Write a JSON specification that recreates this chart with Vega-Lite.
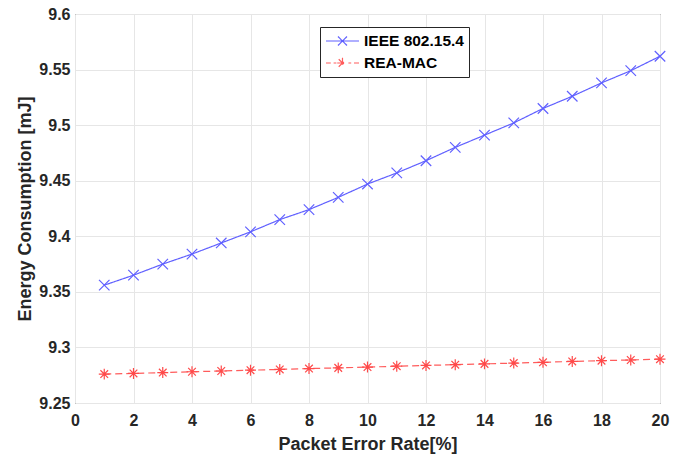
{
  "$schema": "https://vega.github.io/schema/vega-lite/v6.json",
  "autosize": "none",
  "width": 585,
  "height": 389,
  "padding": {"left": 75, "top": 14, "right": 22, "bottom": 55},
  "background": "white",
  "config": {
    "font": "Liberation Sans",
    "view": {"stroke": "#262626", "strokeWidth": 1},
    "axis": {
      "labelFont": "Liberation Sans",
      "labelFontWeight": "bold",
      "labelFontSize": 16,
      "labelColor": "#262626",
      "labelFlush": false,
      "titleFont": "Liberation Sans",
      "titleFontWeight": "bold",
      "titleFontSize": 18,
      "titleColor": "#262626",
      "gridColor": "#e6e6e6",
      "gridWidth": 1,
      "domain": false,
      "ticks": false
    }
  },
  "data": {
    "values": [
      {"per": 1, "energy": 9.356, "series": "IEEE 802.15.4"},
      {"per": 2, "energy": 9.365, "series": "IEEE 802.15.4"},
      {"per": 3, "energy": 9.375, "series": "IEEE 802.15.4"},
      {"per": 4, "energy": 9.384, "series": "IEEE 802.15.4"},
      {"per": 5, "energy": 9.394, "series": "IEEE 802.15.4"},
      {"per": 6, "energy": 9.404, "series": "IEEE 802.15.4"},
      {"per": 7, "energy": 9.415, "series": "IEEE 802.15.4"},
      {"per": 8, "energy": 9.424, "series": "IEEE 802.15.4"},
      {"per": 9, "energy": 9.435, "series": "IEEE 802.15.4"},
      {"per": 10, "energy": 9.447, "series": "IEEE 802.15.4"},
      {"per": 11, "energy": 9.457, "series": "IEEE 802.15.4"},
      {"per": 12, "energy": 9.468, "series": "IEEE 802.15.4"},
      {"per": 13, "energy": 9.480, "series": "IEEE 802.15.4"},
      {"per": 14, "energy": 9.491, "series": "IEEE 802.15.4"},
      {"per": 15, "energy": 9.502, "series": "IEEE 802.15.4"},
      {"per": 16, "energy": 9.515, "series": "IEEE 802.15.4"},
      {"per": 17, "energy": 9.526, "series": "IEEE 802.15.4"},
      {"per": 18, "energy": 9.538, "series": "IEEE 802.15.4"},
      {"per": 19, "energy": 9.549, "series": "IEEE 802.15.4"},
      {"per": 20, "energy": 9.562, "series": "IEEE 802.15.4"},
      {"per": 1, "energy": 9.2760, "series": "REA-MAC"},
      {"per": 2, "energy": 9.2766, "series": "REA-MAC"},
      {"per": 3, "energy": 9.2774, "series": "REA-MAC"},
      {"per": 4, "energy": 9.2781, "series": "REA-MAC"},
      {"per": 5, "energy": 9.2788, "series": "REA-MAC"},
      {"per": 6, "energy": 9.2795, "series": "REA-MAC"},
      {"per": 7, "energy": 9.2802, "series": "REA-MAC"},
      {"per": 8, "energy": 9.2810, "series": "REA-MAC"},
      {"per": 9, "energy": 9.2816, "series": "REA-MAC"},
      {"per": 10, "energy": 9.2823, "series": "REA-MAC"},
      {"per": 11, "energy": 9.2831, "series": "REA-MAC"},
      {"per": 12, "energy": 9.2838, "series": "REA-MAC"},
      {"per": 13, "energy": 9.2845, "series": "REA-MAC"},
      {"per": 14, "energy": 9.2852, "series": "REA-MAC"},
      {"per": 15, "energy": 9.2859, "series": "REA-MAC"},
      {"per": 16, "energy": 9.2866, "series": "REA-MAC"},
      {"per": 17, "energy": 9.2874, "series": "REA-MAC"},
      {"per": 18, "energy": 9.2881, "series": "REA-MAC"},
      {"per": 19, "energy": 9.2887, "series": "REA-MAC"},
      {"per": 20, "energy": 9.2894, "series": "REA-MAC"}
    ]
  },
  "encoding": {
    "x": {
      "field": "per", "type": "quantitative",
      "scale": {"domain": [0, 20], "nice": false, "zero": false},
      "axis": {"values": [0,2,4,6,8,10,12,14,16,18,20], "title": "Packet Error Rate[%]", "labelPadding": 9, "titlePadding": 7}
    },
    "y": {
      "field": "energy", "type": "quantitative",
      "scale": {"domain": [9.25, 9.6], "nice": false, "zero": false},
      "axis": {"values": [9.25,9.3,9.35,9.4,9.45,9.5,9.55,9.6], "format": "~g", "title": "Energy Consumption [mJ]", "labelPadding": 5, "titlePadding": 4}
    }
  },
  "layer": [
    {
      "mark": {"type": "line", "strokeWidth": 1.2},
      "encoding": {
        "color": {
          "field": "series", "type": "nominal",
          "scale": {"domain": ["IEEE 802.15.4", "REA-MAC"], "range": ["#6060ff", "#ff5c5c"]},
          "legend": {
            "title": null,
            "orient": "none",
            "legendX": 245,
            "legendY": 13,
            "fillColor": "white",
            "strokeColor": "#262626",
            "padding": 5,
            "labelFont": "Liberation Sans",
            "labelFontWeight": "bold",
            "labelFontSize": 15.5,
            "labelColor": "#000000",
            "symbolSize": 256,
            "symbolStrokeWidth": 1.2,
            "rowPadding": 4,
            "labelOffset": 21,
            "encode": {
              "symbols": {
                "update": {
                  "shape": {"signal": "datum.value === 'IEEE 802.15.4' ? 'M-1,0L3.125,0M0.5,-0.56L1.62,0.56M0.5,0.56L1.62,-0.56' : 'M-1,0L-0.4,0M-0.05,0L0.3,0M1.8,0L2.15,0M2.5,0L3.125,0M0.4,0L1.72,0M1.06,-0.66L1.06,0.66M0.59,-0.47L1.53,0.47M0.59,0.47L1.53,-0.47'"},
                  "strokeDash": {"value": [1, 0]},
                  "fill": {"value": "transparent"}
                }
              }
            }
          }
        },
        "strokeDash": {
          "field": "series", "type": "nominal",
          "scale": {"domain": ["IEEE 802.15.4", "REA-MAC"], "range": [[1, 0], [7, 4]]},
          "legend": null
        }
      }
    },
    {
      "transform": [{"filter": "datum.series === 'IEEE 802.15.4'"}],
      "mark": {"type": "point", "filled": false, "size": 110, "strokeWidth": 1.2, "opacity": 1, "color": "#6060ff", "shape": "M-1,-1L1,1M-1,1L1,-1"}
    },
    {
      "transform": [{"filter": "datum.series === 'REA-MAC'"}],
      "mark": {"type": "point", "filled": false, "size": 120, "strokeWidth": 1.2, "opacity": 1, "color": "#ff4a4a", "shape": "M0,-1L0,1M-1,0L1,0M-0.7,-0.7L0.7,0.7M-0.7,0.7L0.7,-0.7"}
    }
  ]
}
